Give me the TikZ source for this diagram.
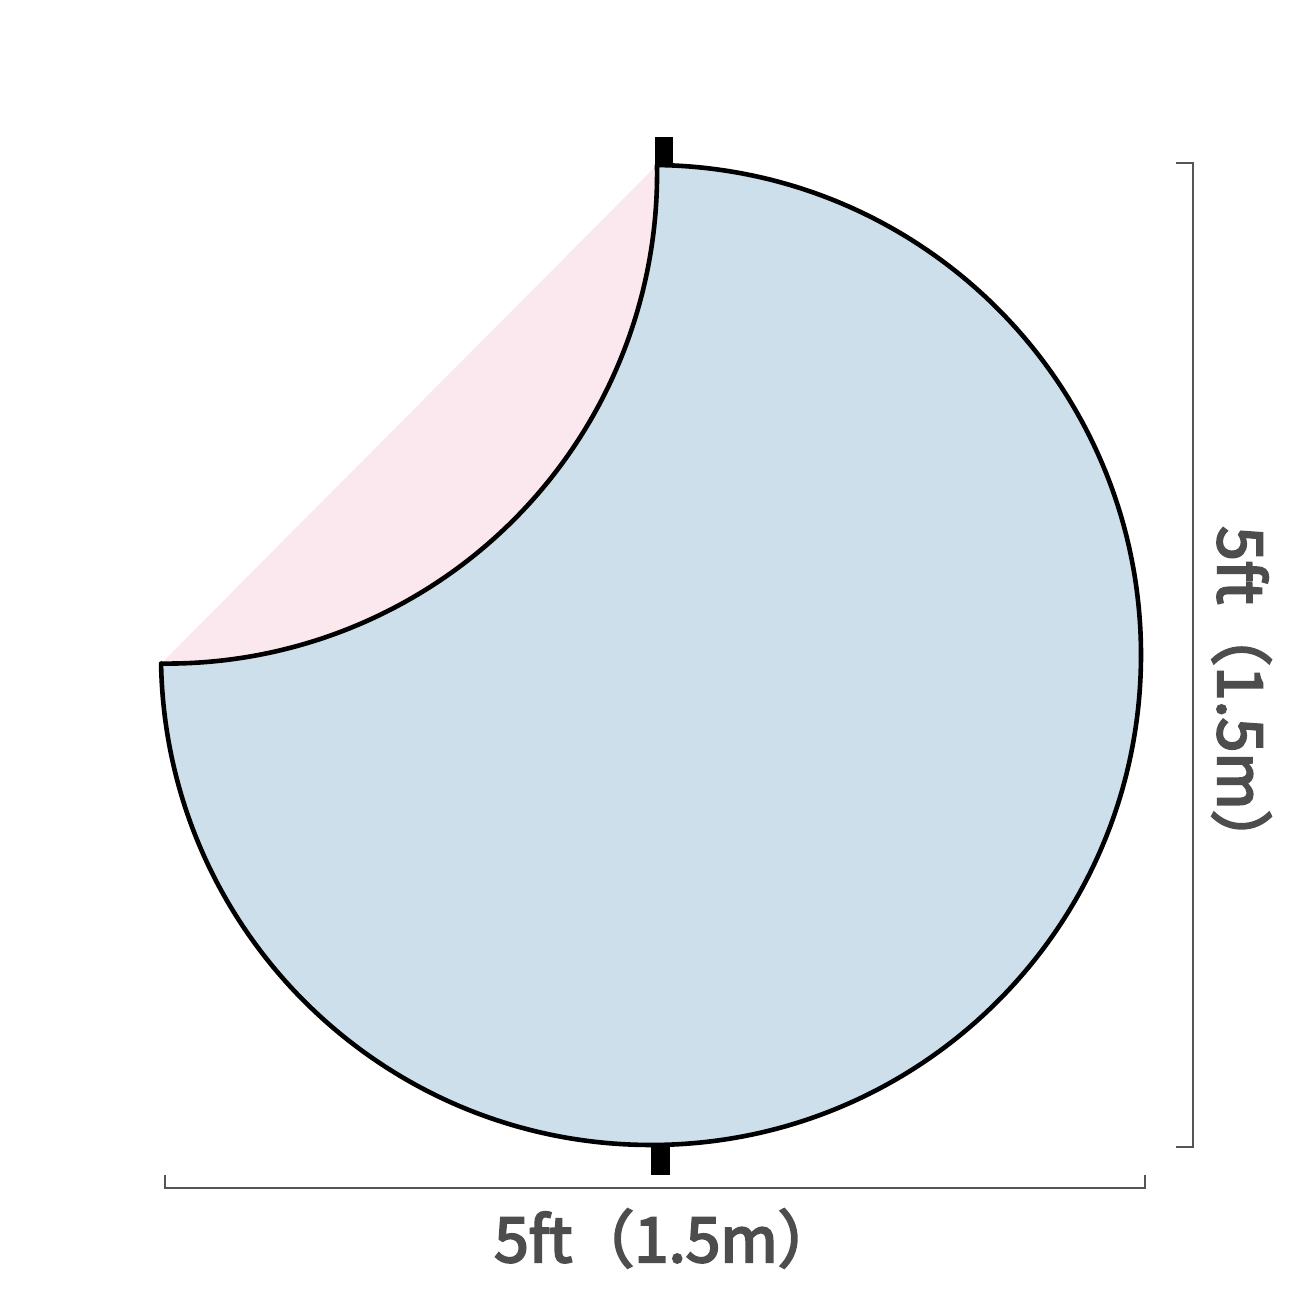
\documentclass[tikz,border=0pt]{standalone}
\usepackage{fontspec}
\newfontfamily\cjk[FakeBold=3.5]{Noto Sans CJK SC}
\usetikzlibrary{calc}
\definecolor{foldpink}{HTML}{FBE8EE}
\definecolor{clothblue}{HTML}{CDDFEA}
\definecolor{dimgray}{HTML}{555555}
\definecolor{labgray}{HTML}{4D4D4D}
\tikzset{
  outline/.style={draw=black, line width=4.6pt, line join=round},
  tab/.style={fill=black},
  dimline/.style={draw=dimgray, line width=1.4pt},
  dimlabel/.style={text=labgray, font=\cjk\fontsize{62}{70}\selectfont, inner sep=0pt}
}
\begin{document}
\begin{tikzpicture}[x=1pt,y=1pt]
\useasboundingbox (0,0) rectangle (1311,1311);
\fill[white] (0,0) rectangle (1311,1311);
\coordinate (C) at (651,656);
\coordinate (A) at ($(C)+(89.3:490)$);
\coordinate (B) at ($(C)+(181:490)$);
% folded-back pink side
\fill[foldpink] (A) -- (B) arc[start angle=-90.7, end angle=1.0, radius=490] -- cycle;
% blue face
\filldraw[fill=clothblue, outline] (A) arc[start angle=89.3, end angle=-179, radius=490]
  arc[start angle=-90.7, end angle=1.0, radius=490] -- cycle;
% tabs
\fill[tab] (655,1144) rectangle (673,1174);
\fill[tab] (651,136) rectangle (670,166);
% dimension lines
\coordinate (h1) at (165,136);
\coordinate (h2) at (165,123);
\coordinate (h3) at (1145,123);
\coordinate (h4) at (1145,136);
\draw[dimline] (h1) -- (h2) -- (h3) -- (h4);
\coordinate (v1) at (1176,1148);
\coordinate (v2) at (1193,1148);
\coordinate (v3) at (1193,164);
\coordinate (v4) at (1176,164);
\draw[dimline] (v1) -- (v2) -- (v3) -- (v4);
% labels
\node[dimlabel, anchor=base] (hlab) at (667,49) {5ft（1.5m）};
\node[dimlabel, anchor=base, rotate=-90] (vlab) at (1218,612) {5ft（1.5m）};
\end{tikzpicture}
\end{document}
